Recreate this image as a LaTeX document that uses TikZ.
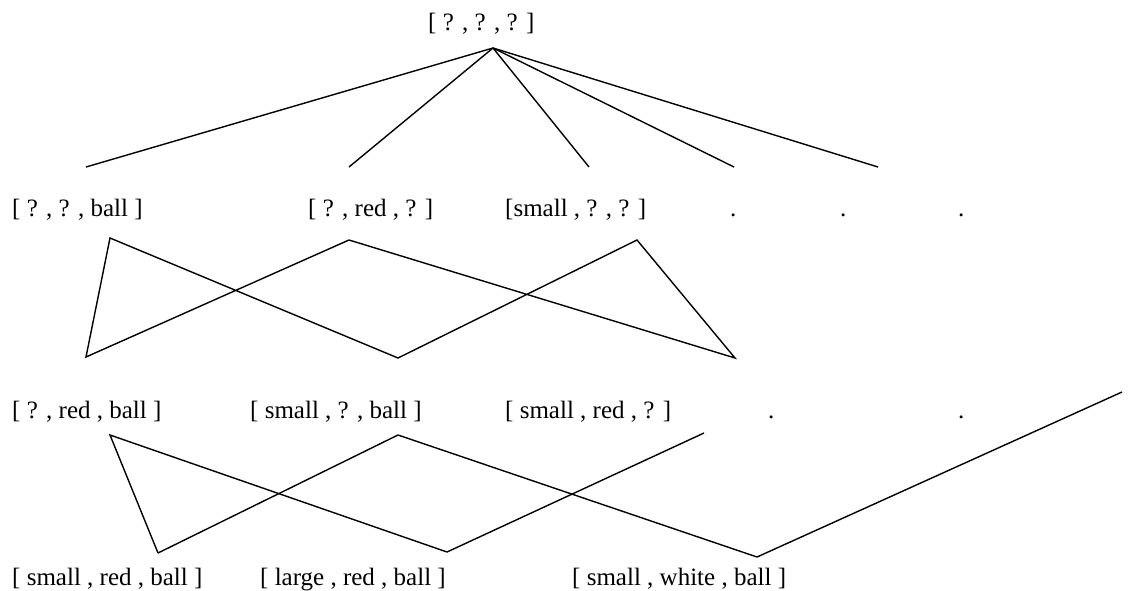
\documentclass[tikz,border=0pt]{standalone}
\usepackage{fontspec}
\setmainfont{Liberation Serif}
\usetikzlibrary{positioning}
\definecolor{latInk}{HTML}{000000}
\tikzset{
  every picture/.style={font=\fontsize{25}{30}\selectfont, text=latInk},
  lat label/.style={anchor=base west, inner sep=0pt},
  lat edge/.style={draw=latInk, line width=1.4pt, line join=miter}
}
\begin{document}
\begin{tikzpicture}[x=1pt,y=-1pt]
  \useasboundingbox (0,0) rectangle (1133,590);
  % hypothesis labels
  \node[lat label] (top) at (428,30) {[ ? , ? , ? ]};
  \node[lat label] (qqb) at (12,216) {[ ? , ? , ball ]};
  \node[lat label] (qrq) at (308,216) {[ ? , red , ? ]};
  \node[lat label] (sqq) at (505,216) {[small , ? , ? ]};
  \node[lat label] (d1) at (730,216) {.};
  \node[lat label] (d2) at (840,216) {.};
  \node[lat label] (d3) at (958,216) {.};
  \node[lat label] (qrb) at (12,418) {[ ? , red , ball ]};
  \node[lat label] (sqb) at (250,418) {[ small , ? , ball ]};
  \node[lat label] (srq) at (505,418) {[ small , red , ? ]};
  \node[lat label] (d4) at (768,418) {.};
  \node[lat label] (d5) at (958,418) {.};
  \node[lat label] (srb) at (12,585) {[ small , red , ball ]};
  \node[lat label] (lrb) at (260,585) {[ large , red , ball ]};
  \node[lat label] (swb) at (572,585) {[ small , white , ball ]};
  % edge ends
  \coordinate (t) at (493,48);
  \coordinate (a1) at (86,167); \coordinate (a2) at (349,167); \coordinate (a3) at (589,167); \coordinate (a4) at (734,167); \coordinate (a5) at (878,167);
  \coordinate (b1) at (110,238); \coordinate (b2) at (349,240); \coordinate (b3) at (637,240);
  \coordinate (c1) at (86,357); \coordinate (c2) at (398,358); \coordinate (c3) at (735,358);
  \coordinate (e1) at (110,435); \coordinate (e2) at (398,435); \coordinate (e3) at (704,433); \coordinate (e4) at (1122,392);
  \coordinate (f1) at (158,553); \coordinate (f2) at (447,552); \coordinate (f3) at (757,557);
  \foreach \p in {a1,a2,a3,a4,a5} \draw[lat edge] (t) -- (\p);
  \draw[lat edge] (c1) -- (b1) -- (c2) -- (b3) -- (c3) -- (b2) -- cycle;
  \draw[lat edge] (f1) -- (e1) -- (f2) -- (e3);
  \draw[lat edge] (f1) -- (e2) -- (f3) -- (e4);
\end{tikzpicture}
\end{document}
